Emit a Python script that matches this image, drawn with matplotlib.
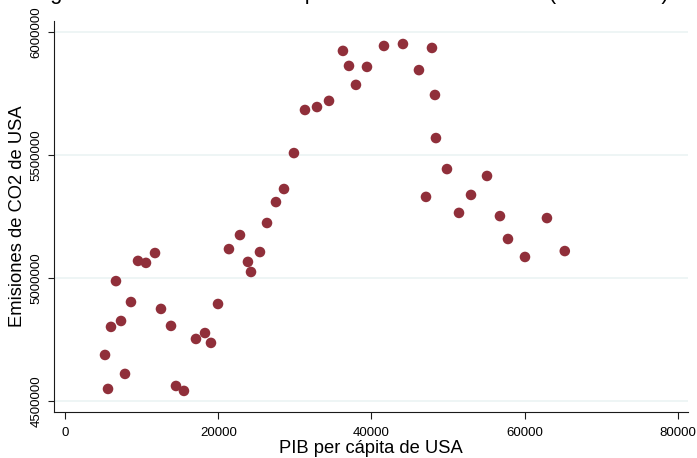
import matplotlib
matplotlib.use("Agg")
import matplotlib.pyplot as plt

plt.rcParams['font.family'] = ['Liberation Sans', 'DejaVu Sans']

# Data
pib_per_capita = [5190, 5580, 5970, 6620, 7280, 7800, 8580, 9500, 10540, 11720,
                  12500, 13810, 14460, 15500, 17070, 18250, 19030, 19950, 21380, 22820,
                  23860, 24260, 25430, 26350, 27520, 28570, 29870, 31310, 32880, 34450,
                  36270, 37060, 37970, 39410, 41630, 44110, 46200, 47120, 47900, 48290,
                  48420, 49860, 51430, 53000, 55090, 56780, 57830, 60050, 62920, 65250]
emisiones_co2 = [4687000, 4549000, 4801000, 4987000, 4825000, 4610000, 4902000, 5069000, 5061000, 5101000,
                 4874000, 4805000, 4561000, 4541000, 4752000, 4776000, 4736000, 4894000, 5117000, 5174000,
                 5065000, 5024000, 5105000, 5223000, 5308000, 5361000, 5507000, 5682000, 5694000, 5719000,
                 5922000, 5861000, 5784000, 5857000, 5942000, 5950000, 5844000, 5329000, 5934000, 5743000,
                 5568000, 5442000, 5264000, 5337000, 5414000, 5251000, 5158000, 5085000, 5243000, 5109000]

x_ticks = [0, 20000, 40000, 60000, 80000]
y_ticks = [4500000, 5000000, 5500000, 6000000]
titulo = "Figura 6. Curva de Kuznets para los Estados Unidos (1970-2017)"
x_label = "PIB per cápita de USA"
y_label = "Emisiones de CO2 de USA"

W, H = 697, 458
fig = plt.figure(figsize=(W / 100, H / 100), dpi=100)
ax = fig.add_axes([54 / W, (H - 412) / H, (688 - 54) / W, (412 - 21) / H])

ax.scatter(pib_per_capita, emisiones_co2, s=58, color='#902f3a', edgecolors='none', zorder=3)

ax.set_xlim(-1476, 81346)
ax.set_ylim(4455320, 6043460)

ax.set_xticks(x_ticks)
ax.set_xticklabels([str(t) for t in x_ticks])
ax.set_yticks(y_ticks)
ax.set_yticklabels([str(t) for t in y_ticks], rotation=90, va='center')

for t in y_ticks:
    ax.axhline(t, color='#eaf2f3', lw=1.1, zorder=1)

for side in ['top', 'right']:
    ax.spines[side].set_visible(False)
for side in ['left', 'bottom']:
    ax.spines[side].set_linewidth(0.8)
    ax.spines[side].set_color('#1a1a1a')

ax.tick_params(axis='x', length=5, width=0.8, color='#1a1a1a', labelsize=9.5, pad=5.5)
ax.tick_params(axis='y', length=4.5, width=0.8, color='#1a1a1a', labelsize=9.5, pad=4)

ax.set_xlabel(x_label, fontsize=13.2, labelpad=1)
ax.set_ylabel(y_label, fontsize=13.2, labelpad=3)

fig.text(0.502, 1.0 + 0.5 / H, titulo, ha='center', va='baseline', fontsize=15.8)

fig.savefig("out.png", dpi=100)
